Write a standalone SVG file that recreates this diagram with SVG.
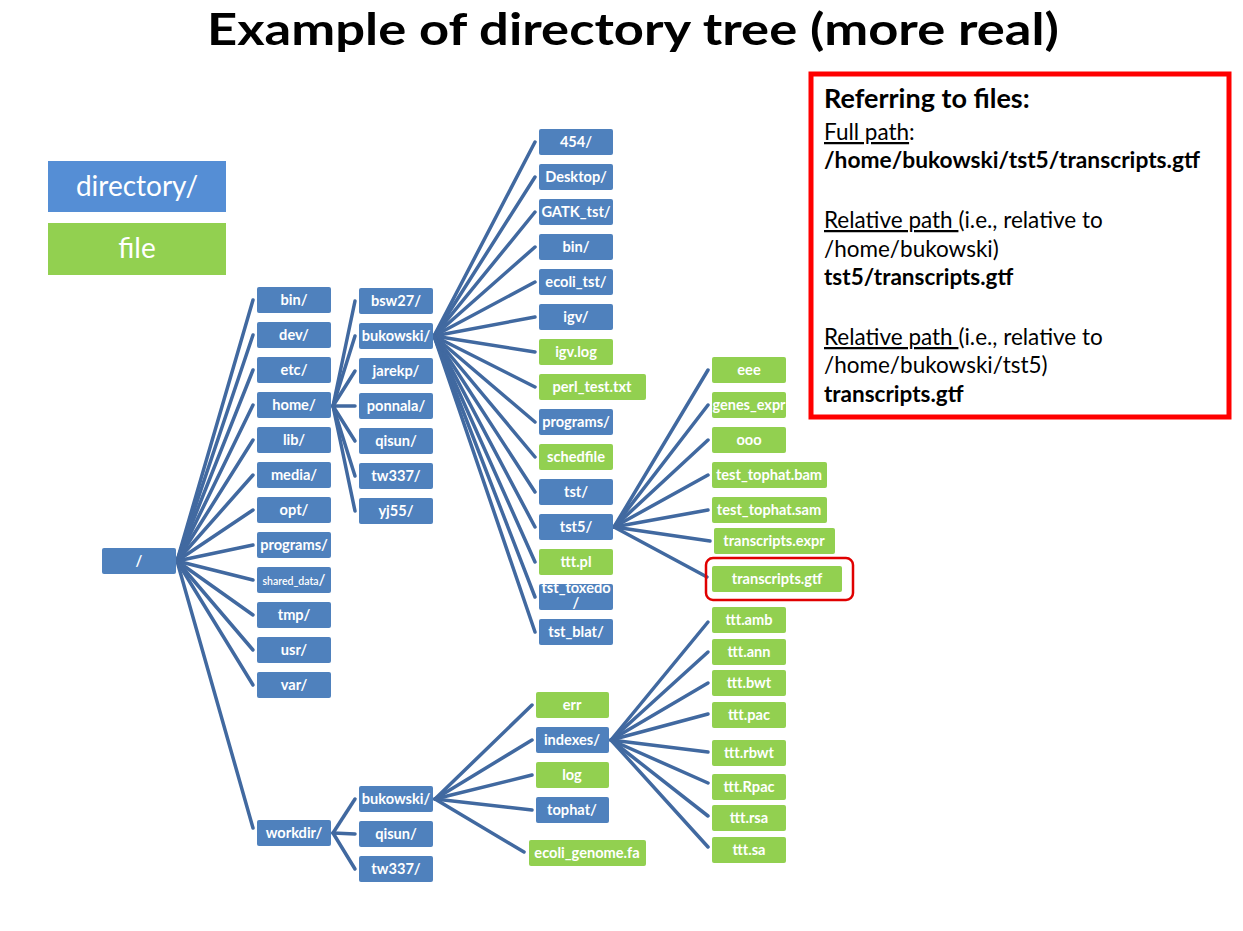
<svg xmlns="http://www.w3.org/2000/svg" width="1243" height="931" viewBox="0 0 1243 931">
<style>
  .d rect{fill:#4F81BD}
  .f rect{fill:#92D050}
  .n text{font-family:Lato,"Open Sans","Liberation Sans",sans-serif;font-weight:bold;font-size:14.6px;fill:#fff;text-anchor:middle}
  .c line{stroke:#4169A0;stroke-width:3.5;stroke-linecap:round}
  .lg{font-family:Lato,"Open Sans","Liberation Sans",sans-serif;font-size:28px;fill:#fff;text-anchor:middle}
  .title{font-family:Lato,"Open Sans","Liberation Sans",sans-serif;font-weight:bold;font-size:44px;fill:#000;text-anchor:middle}
  .note{font-family:Lato,"Open Sans","Liberation Sans",sans-serif;font-size:22.5px;fill:#000}
  .b{font-weight:bold}
  .u{text-decoration:underline}
  .hl{fill:none;stroke:#E00000;stroke-width:2.5}
</style>
<rect width="1243" height="931" fill="#fff"/>

<text class="title" x="633" y="45" textLength="852" lengthAdjust="spacingAndGlyphs">Example of directory tree (more real)</text>

<!-- legend -->
<g id="legend-dir"><rect x="48" y="161" width="178" height="51" fill="#558ED5"/><text class="lg" x="137" y="196">directory/</text></g>
<g id="legend-file"><rect x="48" y="223" width="178" height="52" fill="#92D050"/><text class="lg" x="137" y="258">file</text></g>

<!-- connectors -->
<g id="connectors" class="c">
  <!-- from / -->
  <line x1="177" y1="561" x2="253" y2="300"/>
  <line x1="177" y1="561" x2="253" y2="335"/>
  <line x1="177" y1="561" x2="253" y2="370"/>
  <line x1="177" y1="561" x2="253" y2="405"/>
  <line x1="177" y1="561" x2="253" y2="440"/>
  <line x1="177" y1="561" x2="253" y2="475"/>
  <line x1="177" y1="561" x2="253" y2="510"/>
  <line x1="177" y1="561" x2="253" y2="545"/>
  <line x1="177" y1="561" x2="253" y2="580"/>
  <line x1="177" y1="561" x2="253" y2="615"/>
  <line x1="177" y1="561" x2="253" y2="650"/>
  <line x1="177" y1="561" x2="253" y2="685"/>
  <line x1="177" y1="561" x2="253" y2="828"/>
  <!-- from home/ -->
  <line x1="333" y1="406" x2="355" y2="301"/>
  <line x1="333" y1="406" x2="355" y2="336"/>
  <line x1="333" y1="406" x2="355" y2="371"/>
  <line x1="333" y1="406" x2="355" y2="406"/>
  <line x1="333" y1="406" x2="355" y2="441"/>
  <line x1="333" y1="406" x2="355" y2="476"/>
  <line x1="333" y1="406" x2="355" y2="511"/>
  <!-- from home/bukowski/ -->
  <line x1="434" y1="336" x2="535" y2="142"/>
  <line x1="434" y1="336" x2="535" y2="177"/>
  <line x1="434" y1="336" x2="535" y2="212"/>
  <line x1="434" y1="336" x2="535" y2="247"/>
  <line x1="434" y1="336" x2="535" y2="282"/>
  <line x1="434" y1="336" x2="535" y2="317"/>
  <line x1="434" y1="336" x2="535" y2="352"/>
  <line x1="434" y1="336" x2="535" y2="387"/>
  <line x1="434" y1="336" x2="535" y2="422"/>
  <line x1="434" y1="336" x2="535" y2="457"/>
  <line x1="434" y1="336" x2="535" y2="492"/>
  <line x1="434" y1="336" x2="535" y2="527"/>
  <line x1="434" y1="336" x2="535" y2="562"/>
  <line x1="434" y1="336" x2="535" y2="597"/>
  <line x1="434" y1="336" x2="535" y2="632"/>
  <!-- from tst5/ -->
  <line x1="614" y1="527" x2="708" y2="370"/>
  <line x1="614" y1="527" x2="708" y2="405"/>
  <line x1="614" y1="527" x2="708" y2="440"/>
  <line x1="614" y1="527" x2="708" y2="475"/>
  <line x1="614" y1="527" x2="708" y2="510"/>
  <line x1="614" y1="527" x2="710" y2="541"/>
  <line x1="614" y1="527" x2="707" y2="577"/>
  <!-- from workdir/ -->
  <line x1="333" y1="833" x2="355" y2="799"/>
  <line x1="333" y1="833" x2="355" y2="834"/>
  <line x1="333" y1="833" x2="355" y2="869"/>
  <!-- from workdir/bukowski/ -->
  <line x1="435" y1="799" x2="532" y2="705"/>
  <line x1="435" y1="799" x2="532" y2="740"/>
  <line x1="435" y1="799" x2="532" y2="775"/>
  <line x1="435" y1="799" x2="532" y2="810"/>
  <line x1="435" y1="799" x2="524" y2="852"/>
  <!-- from indexes/ -->
  <line x1="611" y1="740" x2="708" y2="622"/>
  <line x1="611" y1="740" x2="708" y2="652"/>
  <line x1="611" y1="740" x2="708" y2="683"/>
  <line x1="611" y1="740" x2="708" y2="714"/>
  <line x1="611" y1="740" x2="708" y2="752"/>
  <line x1="611" y1="740" x2="708" y2="783"/>
  <line x1="611" y1="740" x2="708" y2="816"/>
  <line x1="611" y1="740" x2="708" y2="847"/>
</g>

<!-- root -->
<g id="root" class="n d"><rect x="102" y="548" width="74" height="26" rx="2"/><text x="139" y="566">/</text></g>

<!-- first level -->
<g id="bin" class="n d"><rect x="257" y="287" width="74" height="26" rx="2"/><text x="294" y="305">bin/</text></g>
<g id="dev" class="n d"><rect x="257" y="322" width="74" height="26" rx="2"/><text x="294" y="340">dev/</text></g>
<g id="etc" class="n d"><rect x="257" y="357" width="74" height="26" rx="2"/><text x="294" y="375">etc/</text></g>
<g id="home" class="n d"><rect x="257" y="392" width="74" height="26" rx="2"/><text x="294" y="410">home/</text></g>
<g id="lib" class="n d"><rect x="257" y="427" width="74" height="26" rx="2"/><text x="294" y="445">lib/</text></g>
<g id="media" class="n d"><rect x="257" y="462" width="74" height="26" rx="2"/><text x="294" y="480">media/</text></g>
<g id="opt" class="n d"><rect x="257" y="497" width="74" height="26" rx="2"/><text x="294" y="515">opt/</text></g>
<g id="programs" class="n d"><rect x="257" y="532" width="74" height="26" rx="2"/><text x="294" y="550">programs/</text></g>
<g id="shared_data" class="n d"><rect x="257" y="567" width="74" height="26" rx="2"/><text x="294" y="585" style="font-weight:600"><tspan style="font-size:10.5px">shared_data</tspan><tspan style="font-size:15px">/</tspan></text></g>
<g id="tmp" class="n d"><rect x="257" y="602" width="74" height="26" rx="2"/><text x="294" y="620">tmp/</text></g>
<g id="usr" class="n d"><rect x="257" y="637" width="74" height="26" rx="2"/><text x="294" y="655">usr/</text></g>
<g id="var" class="n d"><rect x="257" y="672" width="74" height="26" rx="2"/><text x="294" y="690">var/</text></g>
<g id="workdir" class="n d"><rect x="257" y="820" width="74" height="26" rx="2"/><text x="294" y="838">workdir/</text></g>

<!-- /home children -->
<g id="bsw27" class="n d"><rect x="359" y="288" width="74" height="26" rx="2"/><text x="396" y="306">bsw27/</text></g>
<g id="home-bukowski" class="n d"><rect x="359" y="323" width="74" height="26" rx="2"/><text x="396" y="341">bukowski/</text></g>
<g id="jarekp" class="n d"><rect x="359" y="358" width="74" height="26" rx="2"/><text x="396" y="376">jarekp/</text></g>
<g id="ponnala" class="n d"><rect x="359" y="393" width="74" height="26" rx="2"/><text x="396" y="411">ponnala/</text></g>
<g id="home-qisun" class="n d"><rect x="359" y="428" width="74" height="26" rx="2"/><text x="396" y="446">qisun/</text></g>
<g id="home-tw337" class="n d"><rect x="359" y="463" width="74" height="26" rx="2"/><text x="396" y="481">tw337/</text></g>
<g id="yj55" class="n d"><rect x="359" y="498" width="74" height="26" rx="2"/><text x="396" y="516">yj55/</text></g>

<!-- /home/bukowski children -->
<g id="d454" class="n d"><rect x="539" y="129" width="74" height="26" rx="2"/><text x="576" y="147">454/</text></g>
<g id="desktop" class="n d"><rect x="539" y="164" width="74" height="26" rx="2"/><text x="576" y="182">Desktop/</text></g>
<g id="gatk" class="n d"><rect x="539" y="199" width="74" height="26" rx="2"/><text x="576" y="217">GATK_tst/</text></g>
<g id="bk-bin" class="n d"><rect x="539" y="234" width="74" height="26" rx="2"/><text x="576" y="252">bin/</text></g>
<g id="ecoli_tst" class="n d"><rect x="539" y="269" width="74" height="26" rx="2"/><text x="576" y="287">ecoli_tst/</text></g>
<g id="igv" class="n d"><rect x="539" y="304" width="74" height="26" rx="2"/><text x="576" y="322">igv/</text></g>
<g id="igv_log" class="n f"><rect x="539" y="339" width="74" height="26" rx="2"/><text x="576" y="357">igv.log</text></g>
<g id="perl_test" class="n f"><rect x="539" y="374" width="107" height="26" rx="2"/><text x="592" y="392">perl_test.txt</text></g>
<g id="bk-programs" class="n d"><rect x="539" y="409" width="74" height="26" rx="2"/><text x="576" y="427">programs/</text></g>
<g id="schedfile" class="n f"><rect x="539" y="444" width="74" height="26" rx="2"/><text x="576" y="462">schedfile</text></g>
<g id="tst" class="n d"><rect x="539" y="479" width="74" height="26" rx="2"/><text x="576" y="497">tst/</text></g>
<g id="tst5" class="n d"><rect x="539" y="514" width="74" height="26" rx="2"/><text x="576" y="532">tst5/</text></g>
<g id="ttt_pl" class="n f"><rect x="539" y="549" width="74" height="26" rx="2"/><text x="576" y="567">ttt.pl</text></g>
<g id="tst_toxedo" class="n d"><rect x="539" y="584" width="74" height="26" rx="2"/><text x="576" y="593">tst_toxedo</text><text x="576" y="608">/</text></g>
<g id="tst_blat" class="n d"><rect x="539" y="619" width="74" height="26" rx="2"/><text x="576" y="637">tst_blat/</text></g>

<!-- tst5 children -->
<g id="eee" class="n f"><rect x="712" y="357" width="74" height="26" rx="2"/><text x="749" y="375">eee</text></g>
<g id="genes_expr" class="n f"><rect x="712" y="392" width="74" height="26" rx="2"/><text x="749" y="410" textLength="73" lengthAdjust="spacingAndGlyphs">genes_expr</text></g>
<g id="ooo" class="n f"><rect x="712" y="427" width="74" height="26" rx="2"/><text x="749" y="445">ooo</text></g>
<g id="bam" class="n f"><rect x="712" y="462" width="115" height="26" rx="2"/><text x="769" y="480">test_tophat.bam</text></g>
<g id="sam" class="n f"><rect x="712" y="497" width="115" height="26" rx="2"/><text x="769" y="515">test_tophat.sam</text></g>
<g id="tr_expr" class="n f"><rect x="714" y="528" width="121" height="26" rx="2"/><text x="774" y="546">transcripts.expr</text></g>
<g id="tr_gtf" class="n f"><rect x="712" y="566" width="130" height="26" rx="2"/><text x="777" y="584">transcripts.gtf</text></g>
<rect id="tr_gtf-highlight" class="hl" x="706" y="558" width="147" height="42" rx="7"/>

<!-- /workdir children -->
<g id="wd-bukowski" class="n d"><rect x="359" y="786" width="74" height="26" rx="2"/><text x="396" y="804">bukowski/</text></g>
<g id="wd-qisun" class="n d"><rect x="359" y="821" width="74" height="26" rx="2"/><text x="396" y="839">qisun/</text></g>
<g id="wd-tw337" class="n d"><rect x="359" y="856" width="74" height="26" rx="2"/><text x="396" y="874">tw337/</text></g>

<!-- /workdir/bukowski children -->
<g id="err" class="n f"><rect x="536" y="692" width="73" height="26" rx="2"/><text x="572" y="710">err</text></g>
<g id="indexes" class="n d"><rect x="536" y="727" width="73" height="26" rx="2"/><text x="572" y="745">indexes/</text></g>
<g id="log" class="n f"><rect x="536" y="762" width="73" height="26" rx="2"/><text x="572" y="780">log</text></g>
<g id="tophat" class="n d"><rect x="536" y="797" width="73" height="26" rx="2"/><text x="572" y="815">tophat/</text></g>
<g id="ecoli_genome" class="n f"><rect x="529" y="840" width="117" height="26" rx="2"/><text x="587" y="858">ecoli_genome.fa</text></g>

<!-- indexes children -->
<g id="amb" class="n f"><rect x="712" y="607" width="74" height="26" rx="2"/><text x="749" y="625">ttt.amb</text></g>
<g id="ann" class="n f"><rect x="712" y="639" width="74" height="26" rx="2"/><text x="749" y="657">ttt.ann</text></g>
<g id="bwt" class="n f"><rect x="712" y="670" width="74" height="26" rx="2"/><text x="749" y="688">ttt.bwt</text></g>
<g id="pac" class="n f"><rect x="712" y="702" width="74" height="26" rx="2"/><text x="749" y="720">ttt.pac</text></g>
<g id="rbwt" class="n f"><rect x="712" y="740" width="74" height="26" rx="2"/><text x="749" y="758">ttt.rbwt</text></g>
<g id="Rpac" class="n f"><rect x="712" y="774" width="74" height="26" rx="2"/><text x="749" y="792">ttt.Rpac</text></g>
<g id="rsa" class="n f"><rect x="712" y="805" width="74" height="26" rx="2"/><text x="749" y="823">ttt.rsa</text></g>
<g id="sa" class="n f"><rect x="712" y="837" width="74" height="26" rx="2"/><text x="749" y="855">ttt.sa</text></g>

<!-- note box -->
<g id="note">
  <rect x="811" y="74" width="418" height="343" fill="#fff" stroke="#FF0000" stroke-width="5"/>
  <text class="note b" x="824" y="108" style="font-size:27px">Referring to files:</text>
  <text class="note" x="824" y="140"><tspan class="u">Full path</tspan>:</text>
  <text class="note b" x="824" y="168" textLength="376" lengthAdjust="spacingAndGlyphs">/home/bukowski/tst5/transcripts.gtf</text>
  <text class="note" x="824" y="228"><tspan class="u">Relative path </tspan>(i.e., relative to</text>
  <text class="note" x="824" y="257">/home/bukowski)</text>
  <text class="note b" x="824" y="285">tst5/transcripts.gtf</text>
  <text class="note" x="824" y="345"><tspan class="u">Relative path </tspan>(i.e., relative to</text>
  <text class="note" x="824" y="373">/home/bukowski/tst5)</text>
  <text class="note b" x="824" y="402">transcripts.gtf</text>
</g>
</svg>
